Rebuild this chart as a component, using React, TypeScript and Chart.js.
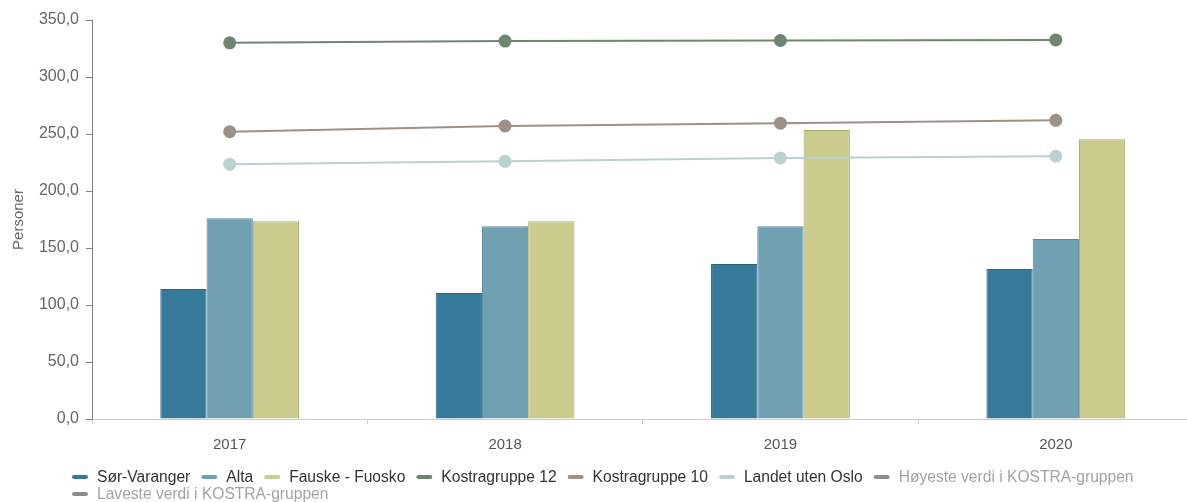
import React, { useEffect, useRef } from 'react';
import { Chart, registerables } from 'chart.js';

Chart.register(...registerables);

const years = ['2017', '2018', '2019', '2020'];
const sorVaranger = [114, 110.5, 136, 131.5];
const alta = [176, 169, 169, 158];
const fauske = [173.5, 173.5, 253.5, 245.5];
const kostragruppe12 = [330, 331.5, 332, 332.5];
const kostragruppe10 = [252, 257, 259.5, 262];
const landetUtenOslo = [223.5, 226, 229, 230.5];
const hoyesteVerdi: (number | null)[] = [null, null, null, null];
const lavesteVerdi: (number | null)[] = [null, null, null, null];
const yTickValues = [0, 50, 100, 150, 200, 250, 300, 350];

const FONT = '"Liberation Sans", Arial, sans-serif';

const legendPlugin = {
  id: 'customLegend',
  afterDraw(chart: any) {
    const ctx = chart.ctx as CanvasRenderingContext2D;
    ctx.save();
    ctx.font = `15.6px ${FONT}`;
    ctx.textBaseline = 'middle';
    ctx.textAlign = 'left';
    const startX = 72;
    const maxX = 1150;
    let x = startX;
    let y = 477;
    chart.data.datasets.forEach((ds: any) => {
      const label = ds.label as string;
      const tw = ctx.measureText(label).width;
      const w = 16 + 9 + tw;
      if (x + w > maxX && x > startX) {
        x = startX;
        y += 17;
      }
      ctx.strokeStyle = ds.legendColor;
      ctx.lineWidth = 4;
      ctx.lineCap = 'round';
      ctx.beginPath();
      ctx.moveTo(x + 2, y);
      ctx.lineTo(x + 14, y);
      ctx.stroke();
      ctx.fillStyle = ds.hidden ? '#a3a3a3' : '#333333';
      ctx.fillText(label, x + 25, y + 0.5);
      x += w + 11;
    });
    ctx.restore();
  },
};

export default function App() {
  const canvasRef = useRef<HTMLCanvasElement | null>(null);

  useEffect(() => {
    if (!canvasRef.current) return;
    const barDs = (label: string, data: number[], bg: string, border: string) => ({
      type: 'bar' as const,
      label,
      data,
      backgroundColor: bg,
      borderColor: border,
      borderWidth: 1,
      borderSkipped: 'bottom',
      legendColor: bg,
      order: 1,
      categoryPercentage: 0.504,
      barPercentage: 1.0,
    });
    const lineDs = (label: string, data: (number | null)[], color: string, hidden = false) => ({
      type: 'line' as const,
      label,
      data,
      borderColor: color,
      backgroundColor: color,
      pointBackgroundColor: color,
      pointBorderColor: color,
      pointBorderWidth: 0,
      pointRadius: 6.5,
      borderWidth: 2,
      fill: false,
      tension: 0,
      legendColor: color,
      hidden,
      order: 0,
    });

    const chart = new Chart(canvasRef.current, {
      type: 'bar',
      data: {
        labels: years,
        datasets: [
          barDs('Sør-Varanger', sorVaranger, '#367a99', '#2a6580'),
          barDs('Alta', alta, '#70a1b3', '#568799'),
          barDs('Fauske - Fuosko', fauske, '#cbcb8d', '#a8a866'),
          lineDs('Kostragruppe 12', kostragruppe12, '#6e8570'),
          lineDs('Kostragruppe 10', kostragruppe10, '#9d9187'),
          lineDs('Landet uten Oslo', landetUtenOslo, '#b9d1d1'),
          lineDs('Høyeste verdi i KOSTRA-gruppen', hoyesteVerdi, '#8c8c8c', true),
          lineDs('Laveste verdi i KOSTRA-gruppen', lavesteVerdi, '#8c8c8c', true),
        ] as any,
      },
      options: {
        animation: false,
        responsive: true,
        maintainAspectRatio: false,
        layout: { padding: { top: 20, right: 4, bottom: 0, left: 0 } },
        plugins: {
          legend: { display: false },
          tooltip: { enabled: false },
          title: { display: false },
        },
        scales: {
          x: {
            type: 'category',
            offset: true,
            grid: {
              display: true,
              offset: true,
              drawOnChartArea: false,
              drawTicks: true,
              tickLength: 5,
              color: '#cccccc',
            },
            border: { display: true, color: '#cccccc', width: 1 },
            ticks: {
              color: '#555555',
              font: { family: FONT, size: 15 },
              padding: 12,
              maxRotation: 0,
            },
            afterFit(scale: any) {
              scale.height = 83;
            },
          },
          y: {
            type: 'linear',
            min: 0,
            max: 350,
            afterBuildTicks(scale: any) {
              scale.ticks = yTickValues.map((v) => ({ value: v }));
            },
            grid: {
              display: true,
              drawOnChartArea: false,
              drawTicks: true,
              tickLength: 6,
              color: '#808080',
            },
            border: { display: true, color: '#808080', width: 1 },
            ticks: {
              color: '#666666',
              font: { family: FONT, size: 16 },
              padding: 7,
              callback: (v: any) => Number(v).toFixed(1).replace('.', ','),
            },
            title: {
              display: true,
              text: 'Personer',
              color: '#666666',
              font: { family: FONT, size: 15 },
              padding: { top: 10, bottom: 0 },
            },
            afterFit(scale: any) {
              scale.width = 92;
            },
          },
        },
      } as any,
      plugins: [legendPlugin],
    });
    return () => chart.destroy();
  }, []);

  return (
    <div
      style={{
        position: 'absolute',
        left: 0,
        top: 0,
        width: 1187,
        height: 502,
        overflow: 'hidden',
        background: '#ffffff',
      }}
    >
      <div style={{ position: 'relative', width: 1200, height: 502 }}>
        <canvas ref={canvasRef} />
      </div>
    </div>
  );
}
